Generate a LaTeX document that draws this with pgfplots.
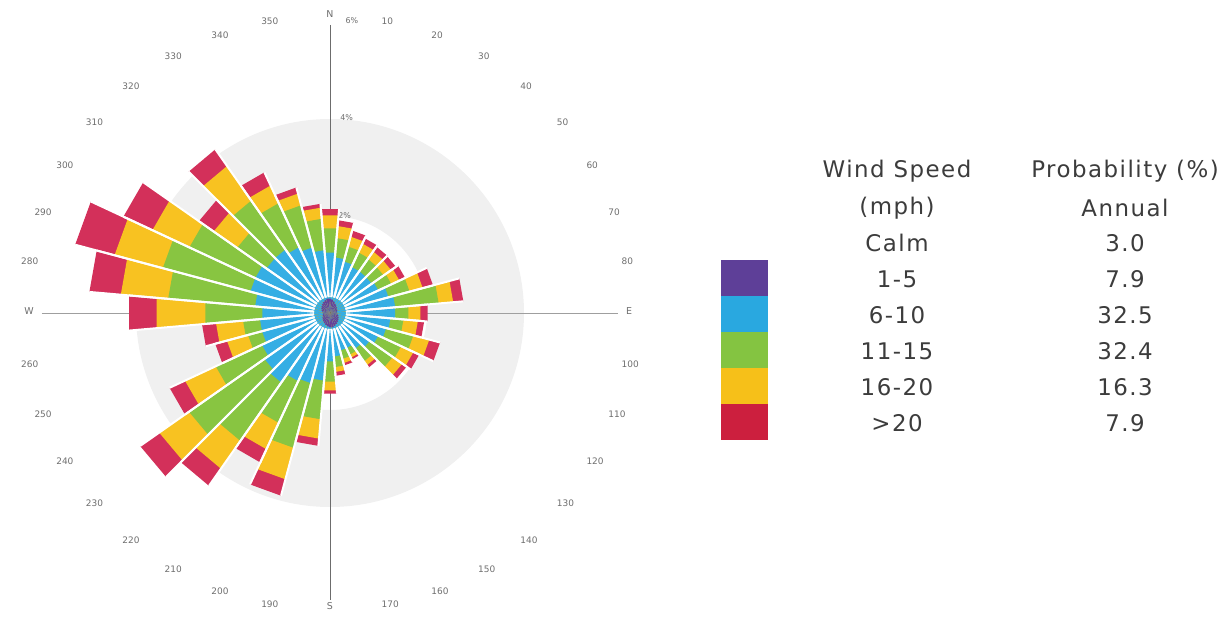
\documentclass[border=0pt]{standalone}
\usepackage{pgfplots}
\usepackage{pgfplotstable}
\pgfplotsset{compat=1.18}
\usepackage{fontspec}
\setmainfont{DejaVu Sans}
\newfontfamily\legfont[LetterSpace=6.5]{DejaVu Sans}
\definecolor{cP}{HTML}{66409A}
\definecolor{cB}{HTML}{35AEE4}
\definecolor{cG}{HTML}{88C541}
\definecolor{cY}{HTML}{F8C221}
\definecolor{cR}{HTML}{D3305A}
\definecolor{lP}{HTML}{5E3F98}
\definecolor{lB}{HTML}{29A8E0}
\definecolor{lG}{HTML}{84C441}
\definecolor{lY}{HTML}{F6C019}
\definecolor{lR}{HTML}{CC1F3E}
\definecolor{bggray}{HTML}{F0F0F0}
\definecolor{labgray}{HTML}{6E6E6E}
\definecolor{txt}{HTML}{3C3C3C}

% wind rose: direction, then share (%) of each speed class: 1-5, 6-10, 11-15, 16-20, >20 mph
\pgfplotstableread{
dir p b g y r
0 0.30 0.95 0.50 0.27 0.13
10 0.28 0.87 0.40 0.25 0.12
20 0.25 0.85 0.32 0.21 0.13
30 0.22 0.83 0.33 0.20 0.12
40 0.20 0.85 0.31 0.19 0.12
50 0.18 0.87 0.30 0.19 0.12
60 0.17 0.93 0.30 0.18 0.13
70 0.16 1.09 0.45 0.28 0.22
80 0.15 1.20 0.90 0.30 0.21
90 0.15 1.20 0.27 0.25 0.15
100 0.16 1.09 0.27 0.30 0.13
110 0.18 1.02 0.58 0.34 0.23
120 0.20 0.90 0.52 0.28 0.13
130 0.22 0.78 0.58 0.24 0.11
140 0.24 0.66 0.32 0.10 0.06
150 0.26 0.54 0.15 0.07 0.04
160 0.28 0.52 0.18 0.09 0.05
170 0.30 0.60 0.22 0.10 0.08
180 0.30 0.70 0.42 0.18 0.07
190 0.28 1.12 0.80 0.40 0.15
200 0.26 1.24 1.38 0.67 0.35
210 0.24 1.31 0.95 0.60 0.30
220 0.22 1.53 1.47 0.70 0.43
230 0.20 1.45 1.90 0.75 0.48
240 0.18 1.37 1.05 0.70 0.35
250 0.16 1.29 0.30 0.45 0.25
260 0.15 1.30 0.35 0.56 0.29
270 0.15 1.25 1.18 1.01 0.57
280 0.16 1.39 1.80 0.98 0.65
290 0.18 1.52 1.87 1.03 0.84
300 0.20 1.50 1.50 0.84 0.66
310 0.22 1.38 0.74 0.59 0.37
320 0.24 1.36 1.23 0.87 0.42
330 0.26 1.24 1.00 0.40 0.30
340 0.28 1.12 0.90 0.25 0.13
350 0.30 1.00 0.65 0.23 0.08
}\windtable

\newcommand\readrow[1]{%
  \pgfplotstablegetelem{#1}{dir}\of\windtable \pgfmathsetmacro\WDir{\pgfplotsretval}%
  \pgfplotstablegetelem{#1}{p}\of\windtable \pgfmathsetmacro\WRp{\pgfplotsretval}%
  \pgfplotstablegetelem{#1}{b}\of\windtable \pgfmathsetmacro\WRb{\WRp+\pgfplotsretval}%
  \pgfplotstablegetelem{#1}{g}\of\windtable \pgfmathsetmacro\WRg{\WRb+\pgfplotsretval}%
  \pgfplotstablegetelem{#1}{y}\of\windtable \pgfmathsetmacro\WRy{\WRg+\pgfplotsretval}%
  \pgfplotstablegetelem{#1}{r}\of\windtable \pgfmathsetmacro\WRr{\WRy+\pgfplotsretval}%
  \pgfmathsetmacro\WSL{sin(\WDir-5)}\pgfmathsetmacro\WCL{cos(\WDir-5)}%
  \pgfmathsetmacro\WSR{sin(\WDir+5)}\pgfmathsetmacro\WCR{cos(\WDir+5)}%
}
\newcommand\windwedge[2]{%
  \pgfmathsetmacro\WXa{#1*\WSL}\pgfmathsetmacro\WYa{#1*\WCL}%
  \pgfmathsetmacro\WXb{#1*\WSR}\pgfmathsetmacro\WYb{#1*\WCR}%
  \edef\WTemp{\noexpand\addplot[fill=#2,draw=none,forget plot] coordinates {(0,0) (\WXa,\WYa) (\WXb,\WYb)};}%
  \WTemp}
\newcommand\windgap[3]{% radius, sin, cos
  \pgfmathsetmacro\WXa{0.33*#2}\pgfmathsetmacro\WYa{0.33*#3}%
  \pgfmathsetmacro\WXb{#1*#2}\pgfmathsetmacro\WYb{#1*#3}%
  \edef\WTemp{\noexpand\addplot[draw=white,line width=2bp,forget plot] coordinates {(\WXa,\WYa) (\WXb,\WYb)};}%
  \WTemp}

\begin{document}
\begin{tikzpicture}
\useasboundingbox (-330bp,-304bp) rectangle (901bp,313bp);
\begin{axis}[
  at={(0,0)}, anchor=origin,
  x=48.5bp, y=48.5bp,
  xmin=-6.3, xmax=6.3, ymin=-6.3, ymax=6.3,
  hide axis, clip=false,
]
% gray ring between 2% and 4%
\fill[bggray, even odd rule] (axis cs:0,0) circle[radius=194bp] (axis cs:0,0) circle[radius=97bp];
% compass lines
\draw[draw=gray!75, line width=0.8bp] (axis cs:-5.94,0) -- (axis cs:5.94,0);
\draw[draw=gray!85!black, line width=0.9bp] (axis cs:0,5.94) -- (axis cs:0,-5.92);
\node[anchor=west, font=\fontsize{8}{9}\selectfont, text=labgray] at (axis cs:0.1,2.0) {2\%};
% bars
\pgfplotsinvokeforeach{0,...,35}{%
  \readrow{#1}%
  \windwedge{\WRr}{cR}\windwedge{\WRy}{cY}\windwedge{\WRg}{cG}\windwedge{\WRb}{cB}\windwedge{\WRp}{cP}%
}
% white separators between petals
\pgfplotsinvokeforeach{0,...,35}{%
  \readrow{#1}%
  \windgap{\WRr}{\WSL}{\WCL}\windgap{\WRr}{\WSR}{\WCR}%
}
\node[anchor=west, font=\fontsize{8}{9}\selectfont, text=labgray] at (axis cs:0.14,4.02) {4\%};
\node[anchor=west, font=\fontsize{8}{9}\selectfont, text=labgray] at (axis cs:0.25,6.02) {6\%};
\end{axis}
% direction labels
\foreach \d in {10,20,30,40,50,60,70,80,100,110,120,130,140,150,160,170}{
  \node[font=\fontsize{9}{10}\selectfont, text=labgray, inner sep=0pt, anchor=west] at ({90-\d}:296bp) {\d};
}
\foreach \d in {190,200,210,220,230,240,250,260,280,290,300,310,320,330,340,350}{
  \node[font=\fontsize{9}{10}\selectfont, text=labgray, inner sep=0pt, anchor=east] at ({90-\d}:296bp) {\d};
}
\node[font=\fontsize{9.5}{11}\selectfont, text=labgray, inner sep=0pt] at (0,299bp) {N};
\node[font=\fontsize{9.5}{11}\selectfont, text=labgray, inner sep=0pt, anchor=west] at (296bp,2bp) {E};
\node[font=\fontsize{9.5}{11}\selectfont, text=labgray, inner sep=0pt] at (0,-293bp) {S};
\node[font=\fontsize{9.5}{11}\selectfont, text=labgray, inner sep=0pt, anchor=east] at (-296bp,2bp) {W};
% legend table
\begin{scope}[every node/.style={font=\legfont\fontsize{23}{27}\selectfont, text=txt, inner sep=0pt, anchor=center}]
\node at (567bp,142bp) {Wind Speed};
\node at (567bp,105bp) {(mph)};
\node at (567bp,70bp) {Calm};
\node at (567bp,34bp) {1-5};
\node at (567bp,-2bp) {6-10};
\node at (567bp,-38bp) {11-15};
\node at (567bp,-74bp) {16-20};
\node at (567bp,-110bp) {>20};
\node at (795bp,142bp) {Probability (\%)};
\node at (795bp,105bp) {Annual};
\node at (795bp,70bp) {3.0};
\node at (795bp,34bp) {7.9};
\node at (795bp,-2bp) {32.5};
\node at (795bp,-38bp) {32.4};
\node at (795bp,-74bp) {16.3};
\node at (795bp,-110bp) {7.9};
\end{scope}
\fill[lP] (391bp,53bp) rectangle (438bp,17bp);
\fill[lB] (391bp,17bp) rectangle (438bp,-19bp);
\fill[lG] (391bp,-19bp) rectangle (438bp,-55bp);
\fill[lY] (391bp,-55bp) rectangle (438bp,-91bp);
\fill[lR] (391bp,-91bp) rectangle (438bp,-127bp);
\end{tikzpicture}
\end{document}
